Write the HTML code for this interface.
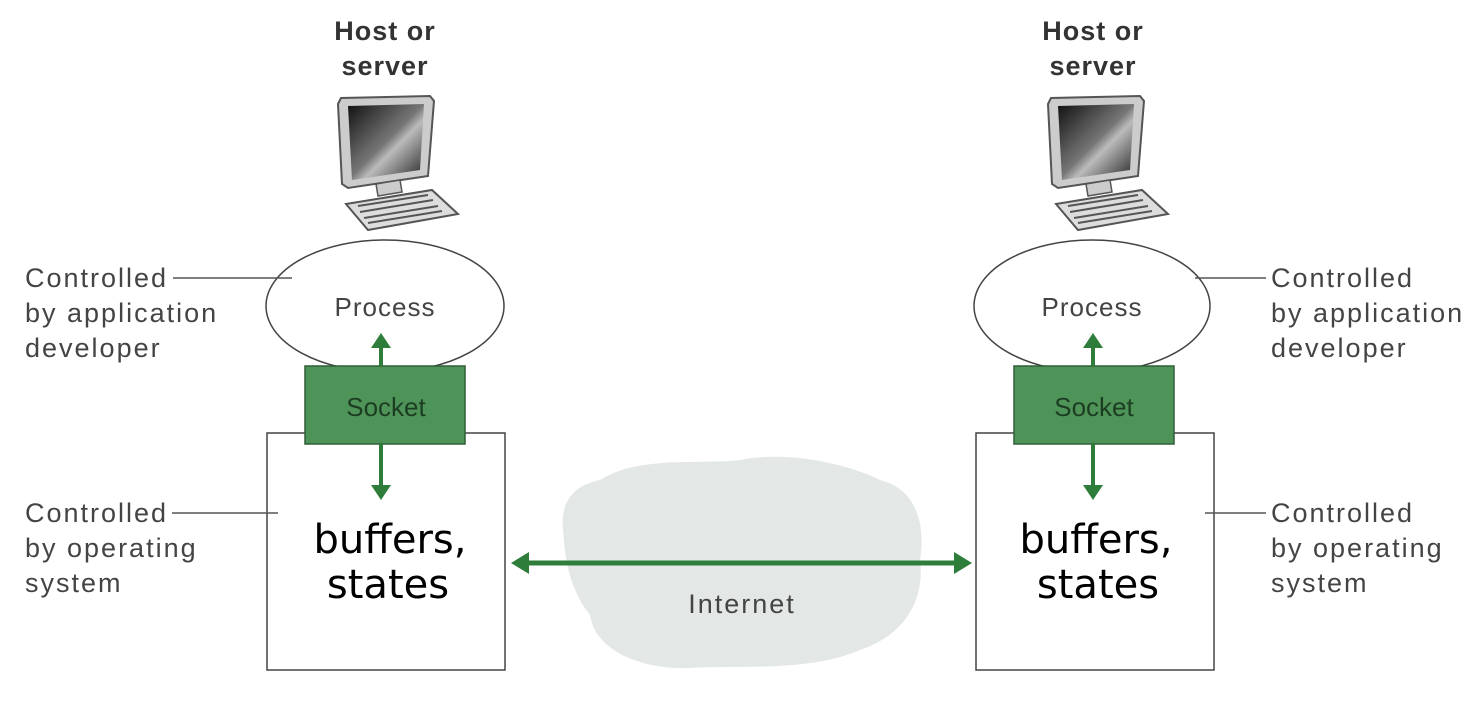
<!DOCTYPE html>
<html><head><meta charset="utf-8"><style>
html,body{margin:0;padding:0;background:#fff;width:1470px;height:726px;overflow:hidden}
svg{display:block}
.l{font-family:"Liberation Sans",sans-serif;font-size:27px;letter-spacing:2px;fill:#444}
.p{font-family:"Liberation Sans",sans-serif;font-size:26px;letter-spacing:1px;fill:#444}
.h{font-family:"Liberation Sans",sans-serif;font-size:27px;letter-spacing:1px;font-weight:bold;fill:#333}
.b{font-family:"Comic Sans MS","DejaVu Sans",sans-serif;font-size:40px;fill:#000}
</style></head><body>
<svg width="1470" height="726" viewBox="0 0 1470 726">
<defs>
<linearGradient id="scr" x1="0" y1="0" x2="1" y2="1">
<stop offset="0" stop-color="#111"/><stop offset="0.5" stop-color="#777"/><stop offset="0.6" stop-color="#bbb"/><stop offset="1" stop-color="#222"/>
</linearGradient>
<g id="pc">
<path d="M0,8 L3,2 L92,0 L96,5 L90,80 L10,92 L4,88 Z" fill="#ccc" stroke="#555" stroke-width="2"/>
<path d="M10,10 L86,8 L82,74 L14,84 Z" fill="url(#scr)"/>
<path d="M38,88 L62,84 L64,96 L40,100 Z" fill="#ccc" stroke="#555" stroke-width="1.5"/>
<path d="M8,108 L94,94 L120,118 L30,134 Z" fill="#ddd" stroke="#555" stroke-width="2"/>
<path d="M20,110 L90,99 M22,116 L95,104 M26,122 L100,110 M30,127 L104,115" stroke="#555" stroke-width="2"/>
</g>
</defs>

<path d="M600,480 C640,455 700,465 740,460 C790,450 850,465 880,480 C920,490 925,530 920,560 C925,600 905,635 860,650 C810,672 740,665 690,668 C640,670 595,650 590,615 C570,590 565,560 563,530 C560,500 575,485 600,480 Z" fill="#e3e8e6"/>

<text class="h" x="385" y="40" text-anchor="middle">Host or</text>
<text class="h" x="385" y="75" text-anchor="middle">server</text>
<text class="h" x="1093" y="40" text-anchor="middle">Host or</text>
<text class="h" x="1093" y="75" text-anchor="middle">server</text>

<use href="#pc" x="338" y="96"/>
<use href="#pc" x="1048" y="96"/>

<ellipse cx="385" cy="306" rx="119" ry="66" fill="#fff" stroke="#444" stroke-width="1.5"/>
<rect x="267" y="433" width="238" height="237" fill="#fff" stroke="#444" stroke-width="1.5"/>
<rect x="305" y="366" width="160" height="78" fill="#4e9458" stroke="#2e5e35" stroke-width="1.5"/>
<text x="386" y="416" text-anchor="middle" font-family="Liberation Sans,sans-serif" font-size="26" fill="#1d3d22">Socket</text>
<text class="p" x="385" y="316" text-anchor="middle">Process</text>
<line x1="381" y1="366" x2="381" y2="345" stroke="#2e7d3a" stroke-width="4"/>
<polygon points="371,348 381,333 391,348" fill="#2e7d3a"/>
<line x1="381" y1="444" x2="381" y2="488" stroke="#2e7d3a" stroke-width="4"/>
<polygon points="371,485 381,500 391,485" fill="#2e7d3a"/>
<text class="b" x="390" y="553" text-anchor="middle">buffers,</text>
<text class="b" x="388" y="598" text-anchor="middle">states</text>

<ellipse cx="1092" cy="306" rx="118" ry="66" fill="#fff" stroke="#444" stroke-width="1.5"/>
<rect x="976" y="433" width="238" height="237" fill="#fff" stroke="#444" stroke-width="1.5"/>
<rect x="1014" y="366" width="160" height="78" fill="#4e9458" stroke="#2e5e35" stroke-width="1.5"/>
<text x="1094" y="416" text-anchor="middle" font-family="Liberation Sans,sans-serif" font-size="26" fill="#1d3d22">Socket</text>
<text class="p" x="1092" y="316" text-anchor="middle">Process</text>
<line x1="1093" y1="366" x2="1093" y2="345" stroke="#2e7d3a" stroke-width="4"/>
<polygon points="1083,348 1093,333 1103,348" fill="#2e7d3a"/>
<line x1="1093" y1="444" x2="1093" y2="488" stroke="#2e7d3a" stroke-width="4"/>
<polygon points="1083,485 1093,500 1103,485" fill="#2e7d3a"/>
<text class="b" x="1096" y="553" text-anchor="middle">buffers,</text>
<text class="b" x="1098" y="598" text-anchor="middle">states</text>

<line x1="525" y1="563" x2="958" y2="563" stroke="#2e7d3a" stroke-width="5"/>
<polygon points="511,563 529,552 529,574" fill="#2e7d3a"/>
<polygon points="972,563 954,552 954,574" fill="#2e7d3a"/>
<text class="l" x="742" y="613" text-anchor="middle">Internet</text>

<text class="l" x="25" y="287">Controlled</text>
<text class="l" x="25" y="322">by application</text>
<text class="l" x="25" y="357">developer</text>
<line x1="173" y1="278" x2="292" y2="278" stroke="#555" stroke-width="1.5"/>
<text class="l" x="25" y="522">Controlled</text>
<text class="l" x="25" y="557">by operating</text>
<text class="l" x="25" y="592">system</text>
<line x1="172" y1="513" x2="278" y2="513" stroke="#555" stroke-width="1.5"/>

<text class="l" x="1271" y="287">Controlled</text>
<text class="l" x="1271" y="322">by application</text>
<text class="l" x="1271" y="357">developer</text>
<line x1="1195" y1="278" x2="1266" y2="278" stroke="#555" stroke-width="1.5"/>
<text class="l" x="1271" y="522">Controlled</text>
<text class="l" x="1271" y="557">by operating</text>
<text class="l" x="1271" y="592">system</text>
<line x1="1205" y1="513" x2="1266" y2="513" stroke="#555" stroke-width="1.5"/>
</svg>
</body></html>
